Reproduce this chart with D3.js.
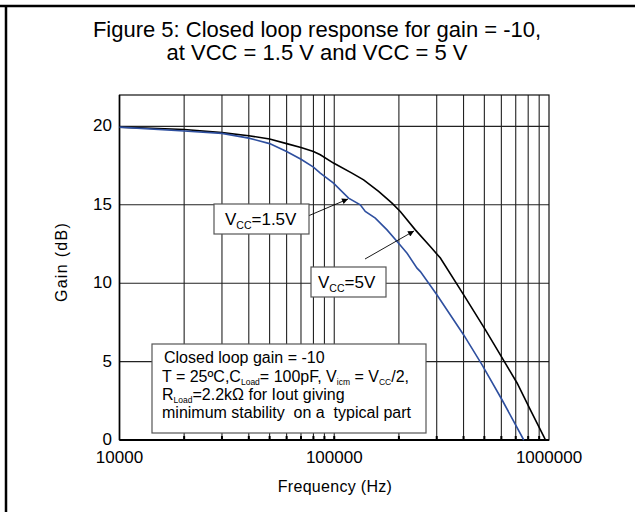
<!DOCTYPE html>
<html>
<head>
    <script src="https://d3js.org/d3.v7.min.js"></script>
    <style>
        body { margin: 0; background: #fff; }
        text { font-family: "Liberation Sans", Arial, sans-serif; fill: #000; }
    </style>
</head>
<body>
    <svg width="635" height="512"></svg>
    <script>
        // data
        var freq15 = [10000, 20000, 30000, 40000, 50000, 60000, 70000, 80000, 86100, 99200, 116600, 132200, 139500, 155300, 176100, 199400, 218300, 242900, 251800, 301000, 400700, 488000, 605000, 763000];
        var gain15 = [19.95, 19.7, 19.55, 19.25, 18.9, 18.4, 17.9, 17.4, 17.02, 16.38, 15.42, 15.0, 14.57, 14.15, 13.4, 12.55, 11.91, 10.96, 10.74, 9.25, 6.7, 4.79, 2.55, 0];

        var freq5 = [10000, 20000, 30000, 40000, 50000, 60000, 70000, 80000, 86100, 99200, 120900, 137000, 160900, 185800, 203000, 238500, 280000, 312000, 400700, 505800, 626600, 711000, 820000, 946000, 963000];
        var gain5 = [19.95, 19.8, 19.6, 19.4, 19.2, 18.9, 18.65, 18.4, 18.19, 17.66, 17.02, 16.59, 15.85, 15.1, 14.57, 13.4, 12.34, 11.6, 9.25, 7.02, 4.89, 3.62, 1.91, 0.21, 0];

        var xTicks = [10000, 100000, 1000000];
        var yTicks = [0, 5, 10, 15, 20];

        var svg = d3.select("svg");

        var pLeft = 119.5, pRight = 549, pTop = 95, pBottom = 440;

        var x = d3.scaleLog().domain([10000, 1000000]).range([pLeft, pRight]);
        var y = d3.scaleLinear().domain([0, 22]).range([pBottom, pTop]);

        // outer frame (top and left only)
        svg.append("line").attr("x1", 0).attr("x2", 635).attr("y1", 6).attr("y2", 6)
           .attr("stroke", "#000").attr("stroke-width", 2.5);
        svg.append("line").attr("x1", 6).attr("x2", 6).attr("y1", 5).attr("y2", 512)
           .attr("stroke", "#000").attr("stroke-width", 2.5);

        // title
        var title = svg.append("text").attr("text-anchor", "middle").style("font-size", "22px");
        title.append("tspan").attr("x", 317).attr("y", 37).text("Figure 5: Closed loop response for gain = -10,");
        title.append("tspan").attr("x", 317).attr("y", 60).text("at VCC = 1.5 V and VCC = 5 V");

        // grid
        var minor = x.ticks().filter(function(d) { return d > 10000 && d < 1000000; });
        var g = svg.append("g");

        g.selectAll(".vgrid").data(minor).enter().append("line")
           .attr("x1", function(d) { return x(d); })
           .attr("x2", function(d) { return x(d); })
           .attr("y1", pTop).attr("y2", pBottom)
           .attr("stroke", "#222").attr("stroke-width", 1.1);

        g.selectAll(".hgrid").data(yTicks.slice(1)).enter().append("line")
           .attr("x1", pLeft).attr("x2", pRight)
           .attr("y1", function(d) { return y(d); })
           .attr("y2", function(d) { return y(d); })
           .attr("stroke", "#222").attr("stroke-width", 1.1);

        // small ticks on bottom axis
        g.selectAll(".btick").data(minor).enter().append("line")
           .attr("x1", function(d) { return x(d); })
           .attr("x2", function(d) { return x(d); })
           .attr("y1", pBottom - 4).attr("y2", pBottom)
           .attr("stroke", "#000").attr("stroke-width", 2);

        // plot frame
        svg.append("rect").attr("x", pLeft).attr("y", pTop)
           .attr("width", pRight - pLeft).attr("height", pBottom - pTop)
           .attr("fill", "none").attr("stroke", "#111").attr("stroke-width", 1.2);
        svg.append("line").attr("x1", pLeft).attr("x2", pRight).attr("y1", pBottom).attr("y2", pBottom)
           .attr("stroke", "#000").attr("stroke-width", 2.2);
        svg.append("line").attr("x1", pLeft).attr("x2", pLeft).attr("y1", pTop).attr("y2", pBottom)
           .attr("stroke", "#000").attr("stroke-width", 1.6);

        // tick labels
        svg.selectAll(".ylab").data(yTicks).enter().append("text")
           .attr("x", 112).attr("y", function(d) { return y(d) + 5; })
           .attr("text-anchor", "end").style("font-size", "17px")
           .text(function(d) { return d; });

        svg.selectAll(".xlab").data(xTicks).enter().append("text")
           .attr("x", function(d) { return x(d); }).attr("y", 463)
           .attr("text-anchor", "middle").style("font-size", "17px")
           .text(function(d) { return d; });

        // axis titles
        svg.append("text").attr("x", 335).attr("y", 492).attr("text-anchor", "middle")
           .style("font-size", "16px").style("letter-spacing", "0.3px").text("Frequency (Hz)");
        svg.append("text").attr("transform", "translate(67," + 262 + ") rotate(-90)")
           .attr("text-anchor", "middle").style("font-size", "16px").style("letter-spacing", "1.3px")
           .text("Gain (dB)");

        // curves
        var line = d3.line()
            .x(function(d) { return x(d[0]); })
            .y(function(d) { return y(d[1]); });

        svg.append("path").datum(d3.zip(freq5, gain5))
           .attr("d", line).attr("fill", "none").attr("stroke", "#000").attr("stroke-width", 1.6);
        svg.append("path").datum(d3.zip(freq15, gain15))
           .attr("d", line).attr("fill", "none").attr("stroke", "#2e4f9f").attr("stroke-width", 1.6);

        // arrow marker
        svg.append("defs").append("marker")
           .attr("id", "arr").attr("viewBox", "0 0 10 10").attr("refX", 10).attr("refY", 5)
           .attr("markerWidth", 9).attr("markerHeight", 6).attr("orient", "auto")
           .attr("markerUnits", "userSpaceOnUse")
           .append("path").attr("d", "M0,0 L10,5 L0,10 z").attr("fill", "#000");

        svg.append("line").attr("x1", 308).attr("y1", 216).attr("x2", 348).attr("y2", 199)
           .attr("stroke", "#000").attr("stroke-width", 0.9).attr("marker-end", "url(#arr)");
        svg.append("line").attr("x1", 365).attr("y1", 259).attr("x2", 414).attr("y2", 231)
           .attr("stroke", "#000").attr("stroke-width", 0.9).attr("marker-end", "url(#arr)");

        // label boxes
        function vccLabel(bx, by, bw, bh, tx, ty, val) {
            svg.append("rect").attr("x", bx).attr("y", by).attr("width", bw).attr("height", bh)
               .attr("fill", "#fff").attr("stroke", "#555").attr("stroke-width", 1.2);
            var t = svg.append("text").attr("x", tx).attr("y", ty).style("font-size", "17px");
            t.append("tspan").text("V");
            t.append("tspan").attr("dy", 4).style("font-size", "10.5px").text("CC");
            t.append("tspan").attr("dy", -4).text("=" + val);
        }
        vccLabel(214, 204, 95, 30, 225, 225, "1.5V");
        vccLabel(311, 267, 75, 30, 318, 288, "5V");

        // conditions box
        svg.append("rect").attr("x", 152).attr("y", 344).attr("width", 274).attr("height", 89)
           .attr("fill", "#fff").attr("stroke", "#555").attr("stroke-width", 1.2);

        var fs = "16px", sub = "8.5px";
        var c = svg.append("text").style("font-size", fs);
        c.append("tspan").attr("x", 164).attr("y", 363).text("Closed loop gain = -10");

        var l2 = svg.append("text").attr("x", 162).attr("y", 382).style("font-size", fs);
        l2.append("tspan").text("T = 25ºC,C");
        l2.append("tspan").attr("dy", 3).style("font-size", sub).text("Load");
        l2.append("tspan").attr("dy", -3).text("= 100pF, V");
        l2.append("tspan").attr("dy", 3).style("font-size", sub).text("icm");
        l2.append("tspan").attr("dy", -3).text(" = V");
        l2.append("tspan").attr("dy", 3).style("font-size", sub).text("CC");
        l2.append("tspan").attr("dy", -3).text("/2,");

        var l3 = svg.append("text").attr("x", 162).attr("y", 400).style("font-size", fs);
        l3.append("tspan").text("R");
        l3.append("tspan").attr("dy", 3).style("font-size", sub).text("Load");
        l3.append("tspan").attr("dy", -3).text("=2.2kΩ for Iout giving");

        svg.append("text").attr("x", 162).attr("y", 418).style("font-size", fs)
           .style("white-space", "pre")
           .text("minimum stability  on a  typical part");
    </script>
</body>
</html>
